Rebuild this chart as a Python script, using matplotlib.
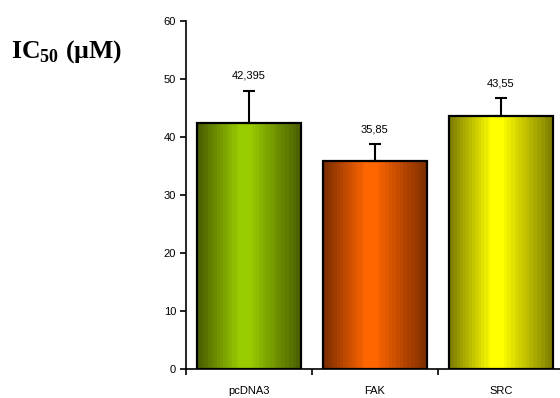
import numpy as np
import matplotlib.pyplot as plt
from matplotlib.colors import LinearSegmentedColormap

categories = ['pcDNA3', 'FAK', 'SRC']
ic50 = [42.395, 35.85, 43.55]
errors = [5.6, 2.9, 3.1]
value_labels = ['42,395', '35,85', '43,55']

# dark edge colour / bright centre colour for each bar
edge_colors = ['#485c00', '#7a2c00', '#7a7a00']
center_colors = ['#99cc00', '#ff6600', '#ffff00']

plt.rcParams['font.family'] = ['Liberation Sans', 'DejaVu Sans']
plt.rcParams['mathtext.fontset'] = 'custom'
plt.rcParams['mathtext.rm'] = 'Liberation Serif'
plt.rcParams['mathtext.bf'] = 'Liberation Serif:bold'

fig = plt.figure(figsize=(5.6, 3.98), dpi=100)
ax = fig.add_axes([0.332, 0.073, 0.675, 0.874])

x = np.arange(len(categories))
bars = ax.bar(x, ic50, width=0.83, facecolor='none', edgecolor='black',
              linewidth=1.6, zorder=3)

# banded horizontal shading: dark at both sides, brightest a bit left of centre
t = np.linspace(0, 1, 256)
shade = np.where(t < 0.45, t / 0.45, (1 - t) / 0.55)
shade = np.clip(shade * 1.1, 0, 1)
shade = np.round(shade * 14) / 14
for bar, dark, bright in zip(bars, edge_colors, center_colors):
    cmap = LinearSegmentedColormap.from_list('shade', [dark, bright])
    x0, w, h = bar.get_x(), bar.get_width(), bar.get_height()
    im = ax.imshow(shade[np.newaxis, :], cmap=cmap, vmin=0, vmax=1,
                   extent=[x0, x0 + w, 0, h], aspect='auto', zorder=2,
                   interpolation='nearest')
    im.set_clip_path(bar)

ax.errorbar(x, ic50, yerr=[np.zeros(len(x)), errors], fmt='none',
            ecolor='black', elinewidth=1.5, capsize=4, capthick=1.5, zorder=4)

for xi, v, e, lab in zip(x, ic50, errors, value_labels):
    ax.annotate(lab, (xi, v + e), xytext=(0, 7), textcoords='offset points',
                ha='center', va='bottom', fontsize=8)

ax.set_xlim(-0.5, 2.5)
ax.set_ylim(0, 60)
ax.set_yticks(range(0, 61, 10))
ax.set_xticks([-0.5, 0.5, 1.5, 2.5])
ax.set_xticklabels([])
ax.set_xticks(x, minor=True)
ax.set_xticklabels(categories, minor=True)
ax.tick_params(axis='x', which='major', direction='out', length=4, width=1.2)
ax.tick_params(axis='x', which='minor', length=0, pad=12, labelsize=8)
ax.tick_params(axis='y', direction='out', length=4, width=1.2, labelsize=8, pad=3)
for s in ['top', 'right']:
    ax.spines[s].set_visible(False)
for s in ['left', 'bottom']:
    ax.spines[s].set_linewidth(1.2)
ax.set_facecolor('none')

fig.text(0.02, 0.87, r'IC$_{\mathbf{50}}$ (µM)', fontsize=18.5,
         fontweight='bold', family='Liberation Serif', ha='left', va='center')

fig.savefig('out.png', dpi=100)
